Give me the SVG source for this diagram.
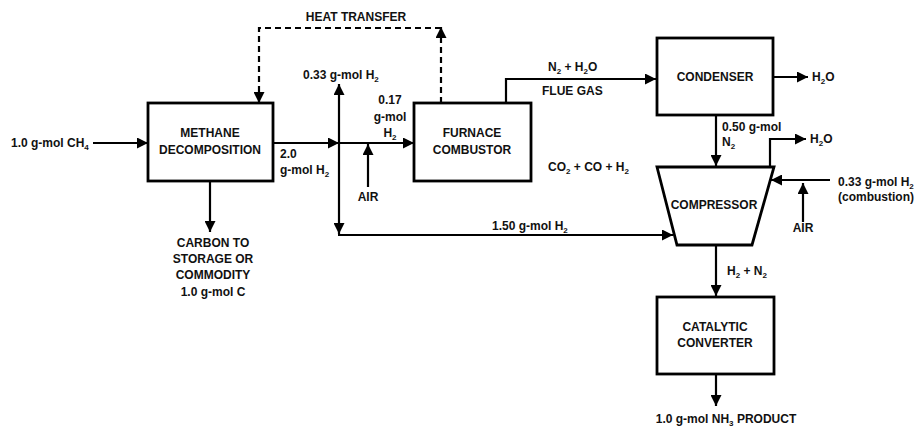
<svg xmlns="http://www.w3.org/2000/svg" width="924" height="427" viewBox="0 0 924 427">
<defs>
<style>
.node{fill:#fff;stroke:#000;stroke-width:2.8}
.ln{fill:none;stroke:#000;stroke-width:2.2}
.dash{stroke-dasharray:6,4}
text{font-family:"Liberation Sans",Arial,sans-serif;font-weight:bold;font-size:12px;fill:#111}
.m{text-anchor:middle}
.s{font-size:8px}
</style>
<marker id="ah" viewBox="0 0 11 11" refX="11" refY="5.5" markerWidth="11" markerHeight="11" orient="auto" markerUnits="userSpaceOnUse">
<path d="M0,0 L11,5.5 L0,11 z" fill="#000"/>
</marker>
</defs>
<rect width="924" height="427" fill="#fff"/>

<g id="connectors">
<path class="ln" d="M93,143 H148" marker-end="url(#ah)"/>
<path class="ln" d="M273,143 H339" marker-end="url(#ah)"/>
<path class="ln" d="M339,143 H414" marker-end="url(#ah)"/>
<path class="ln" d="M339,143 V84" marker-end="url(#ah)"/>
<path class="ln" d="M339,143 V234" marker-end="url(#ah)"/>
<path class="ln" d="M338,235 H673" marker-end="url(#ah)"/>
<path class="ln" d="M368,187 V144" marker-end="url(#ah)"/>
<path class="ln" d="M210,181 V232" marker-end="url(#ah)"/>
<path class="ln dash" d="M441,103 V27" marker-end="url(#ah)"/>
<path class="ln dash" d="M441,28 H259 V103" marker-end="url(#ah)"/>
<path class="ln" d="M506,103 V79 H656" marker-end="url(#ah)"/>
<path class="ln" d="M773,77 H808" marker-end="url(#ah)"/>
<path class="ln" d="M716,115 V166" marker-end="url(#ah)"/>
<path class="ln" d="M770,167 V139 H806" marker-end="url(#ah)"/>
<path class="ln" d="M830,180 H771" marker-end="url(#ah)"/>
<path class="ln" d="M803,222 V183" marker-end="url(#ah)"/>
<path class="ln" d="M716,245 V296" marker-end="url(#ah)"/>
<path class="ln" d="M716,374 V406" marker-end="url(#ah)"/>
</g>

<g id="methane">
<rect class="node" x="148" y="103" width="125" height="78"/>
<text class="m" x="210" y="137">METHANE</text>
<text class="m" x="210" y="154">DECOMPOSITION</text>
</g>
<g id="furnace">
<rect class="node" x="414" y="103" width="117" height="78"/>
<text class="m" x="472" y="137">FURNACE</text>
<text class="m" x="472" y="154">COMBUSTOR</text>
</g>
<g id="condenser">
<rect class="node" x="657" y="38" width="116" height="77"/>
<text class="m" x="715" y="81">CONDENSER</text>
</g>
<g id="compressor">
<path class="node" d="M657,167 H774 L752,245 H677 Z"/>
<text class="m" x="714" y="209">COMPRESSOR</text>
</g>
<g id="converter">
<rect class="node" x="657" y="297" width="117" height="77"/>
<text class="m" x="715" y="331">CATALYTIC</text>
<text class="m" x="715" y="347">CONVERTER</text>
</g>

<g id="labels">
<text class="m" x="356" y="21">HEAT TRANSFER</text>
<text x="303" y="79">0.33 g-mol H<tspan class="s" dy="3">2</tspan></text>
<text x="11" y="147">1.0 g-mol CH<tspan class="s" dy="3">4</tspan></text>
<text x="280" y="158">2.0</text>
<text x="280" y="174">g-mol H<tspan class="s" dy="3">2</tspan></text>
<text class="m" x="390" y="104">0.17</text>
<text class="m" x="390" y="121">g-mol</text>
<text class="m" x="390" y="137">H<tspan class="s" dy="3">2</tspan></text>
<text class="m" x="368" y="201">AIR</text>
<text x="548" y="71">N<tspan class="s" dy="3">2</tspan><tspan dy="-3"> + H</tspan><tspan class="s" dy="3">2</tspan><tspan dy="-3">O</tspan></text>
<text x="542" y="95">FLUE GAS</text>
<text x="812" y="81">H<tspan class="s" dy="3">2</tspan><tspan dy="-3">O</tspan></text>
<text x="722" y="131">0.50 g-mol</text>
<text x="722" y="146">N<tspan class="s" dy="3">2</tspan></text>
<text x="810" y="143">H<tspan class="s" dy="3">2</tspan><tspan dy="-3">O</tspan></text>
<text x="548" y="171">CO<tspan class="s" dy="3">2</tspan><tspan dy="-3"> + CO + H</tspan><tspan class="s" dy="3">2</tspan></text>
<text x="838" y="186">0.33 g-mol H<tspan class="s" dy="3">2</tspan></text>
<text x="838" y="201">(combustion)</text>
<text class="m" x="803" y="232">AIR</text>
<text x="492" y="230">1.50 g-mol H<tspan class="s" dy="3">2</tspan></text>
<text x="727" y="275">H<tspan class="s" dy="3">2</tspan><tspan dy="-3"> + N</tspan><tspan class="s" dy="3">2</tspan></text>
<text class="m" x="726" y="423">1.0 g-mol NH<tspan class="s" dy="3">3</tspan><tspan dy="-3"> PRODUCT</tspan></text>
<text class="m" x="213" y="247">CARBON TO</text>
<text class="m" x="213" y="263">STORAGE OR</text>
<text class="m" x="213" y="279">COMMODITY</text>
<text class="m" x="213" y="296">1.0 g-mol C</text>
</g>
</svg>
